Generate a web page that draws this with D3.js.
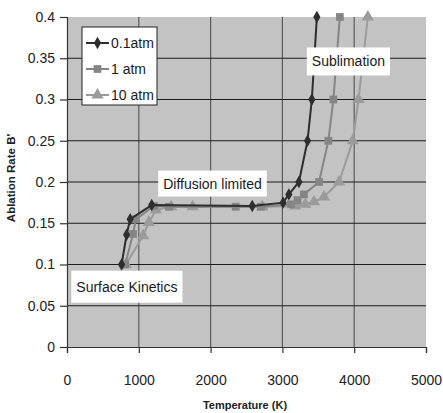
<!DOCTYPE html>
<html>
<head>
<meta charset="utf-8">
<script src="https://cdn.jsdelivr.net/npm/d3@7"></script>
<style>
body { margin: 0; background: #fff; }
text { font-family: "Liberation Sans", Arial, sans-serif; }
</style>
</head>
<body>
<div class="chart"></div>
<script>
// temperatures (K) and ablation rates
const temp01 = [760, 830, 880, 1180, 2580, 3010, 3090, 3230, 3350, 3410, 3480];
const rate01 = [0.10, 0.136, 0.155, 0.172, 0.171, 0.175, 0.185, 0.20, 0.25, 0.30, 0.40];

const temp1 = [810, 920, 960, 1210, 1420, 2350, 2700, 3120, 3210, 3300, 3510, 3640, 3710, 3800];
const rate1 = [0.10, 0.137, 0.155, 0.171, 0.17, 0.17, 0.17, 0.173, 0.178, 0.185, 0.20, 0.25, 0.30, 0.40];

const temp10 = [820, 1060, 1140, 1240, 1450, 1750, 2720, 3180, 3320, 3440, 3580, 3790, 3980, 4060, 4190];
const rate10 = [0.10, 0.135, 0.151, 0.166, 0.17, 0.17, 0.17, 0.171, 0.173, 0.176, 0.182, 0.20, 0.25, 0.30, 0.40];

const seriesNames = ["0.1atm", "1 atm", "10 atm"];
const xTicks = [0, 1000, 2000, 3000, 4000, 5000];
const yTicks = [0, 0.05, 0.1, 0.15, 0.2, 0.25, 0.3, 0.35, 0.4];

// region labels, placed in data units (left edge of box, middle of box)
const notes = [
	{text: "Sublimation", t: 3340, v: 0.346, pad: 6},
	{text: "Diffusion limited", t: 1270, v: 0.198, pad: 5},
	{text: "Surface Kinetics", t: 60, v: 0.073, pad: 8}
];

const width = 443;
const height = 413;
const pLeft = 67, pRight = 426, pTop = 17, pBottom = 347;

const svg = d3.select('.chart')
		.append('svg')
		.attr('width', width)
		.attr('height', height)

const x = d3.scaleLinear().domain([0, 5000]).range([pLeft, pRight]);
const y = d3.scaleLinear().domain([0, 0.4]).range([pBottom, pTop]);

// plot area
svg.append("rect")
	.attr("x", pLeft).attr("y", pTop)
	.attr("width", pRight - pLeft).attr("height", pBottom - pTop)
	.attr("fill", "#c3c3c3");

// vertical grid
svg.selectAll(".vgrid")
	.data(xTicks.filter(d => d > 0 && d < 5000))
	.enter()
	.append("line")
	.attr("x1", d => x(d)).attr("x2", d => x(d))
	.attr("y1", pTop).attr("y2", pBottom)
	.attr("stroke", "#5c5c5c").attr("stroke-width", 1.2);

// horizontal grid
svg.selectAll(".hgrid")
	.data(yTicks.filter(d => d > 0 && d < 0.4))
	.enter()
	.append("line")
	.attr("x1", pLeft).attr("x2", pRight)
	.attr("y1", d => y(d)).attr("y2", d => y(d))
	.attr("stroke", "#1c1c1c").attr("stroke-width", 1.2);

// axes
const yAxis = svg.append("g")
	.attr("transform", `translate(${pLeft},0)`)
	.call(d3.axisLeft(y).tickValues(yTicks).tickSize(7).tickPadding(5).tickFormat(d => d3.format("")(+d.toFixed(2))));
const xAxis = svg.append("g")
	.attr("transform", `translate(0,${pBottom})`)
	.call(d3.axisBottom(x).tickValues(xTicks).tickSize(6).tickPadding(22).tickFormat(d3.format("d")));

[yAxis, xAxis].forEach(g => {
	g.select(".domain").attr("stroke", "#333").attr("stroke-width", 1.2);
	g.selectAll(".tick line").attr("stroke", "#333").attr("stroke-width", 1.2);
	g.selectAll("text")
		.attr("fill", "#222")
		.style("font-size", "14px")
		.style("font-family", "'Liberation Sans', Arial, sans-serif");
});

// axis titles
svg.append("text")
	.attr("x", 245).attr("y", 409)
	.attr("text-anchor", "middle")
	.style("font-size", "11px").style("font-weight", "bold")
	.attr("fill", "#222")
	.text("Temperature (K)");

svg.append("text")
	.attr("transform", "translate(15,178) rotate(-90)")
	.attr("text-anchor", "middle")
	.style("font-size", "11.5px").style("font-weight", "bold")
	.attr("fill", "#222")
	.text("Ablation Rate B'");

// series
const series = [
	{name: seriesNames[2], temps: temp10, rates: rate10, color: "#9b9b9b", shape: d3.symbolTriangle, size: 65},
	{name: seriesNames[1], temps: temp1, rates: rate1, color: "#858585", shape: d3.symbolSquare, size: 60},
	{name: seriesNames[0], temps: temp01, rates: rate01, color: "#2e2e2e", shape: d3.symbolDiamond, size: 45}
];

const line = d3.line().x(d => x(d[0])).y(d => y(d[1]));

series.forEach(s => {
	const pts = s.temps.map((t, i) => [t, s.rates[i]]);
	svg.append("path")
		.datum(pts)
		.attr("d", line)
		.attr("fill", "none")
		.attr("stroke", s.color)
		.attr("stroke-width", 2);
	svg.selectAll(null)
		.data(pts)
		.enter()
		.append("path")
		.attr("transform", d => `translate(${x(d[0])},${y(d[1])})`)
		.attr("d", d3.symbol().type(s.shape).size(s.size))
		.attr("fill", s.color);
});

// annotations
notes.forEach(n => {
	const g = svg.append("g");
	const t = g.append("text")
		.attr("x", x(n.t) + 5).attr("y", y(n.v))
		.attr("dy", "0.35em")
		.style("font-size", "14px")
		.attr("fill", "#1a1a1a")
		.text(n.text);
	const bb = t.node().getBBox();
	g.insert("rect", "text")
		.attr("x", bb.x - 5).attr("y", bb.y - n.pad)
		.attr("width", bb.width + 10).attr("height", bb.height + 2 * n.pad)
		.attr("fill", "#fff");
});

// legend
const legend = svg.append("g").attr("transform", "translate(82,27)");
legend.append("rect")
	.attr("width", 75).attr("height", 78)
	.attr("fill", "#fff").attr("stroke", "#222").attr("stroke-width", 1);

const legendItems = [series[2], series[1], series[0]];
legend.selectAll(".item")
	.data(legendItems)
	.enter()
	.append("g")
	.attr("transform", (d, i) => `translate(0,${16 + i * 26})`)
	.each(function(d) {
		const g = d3.select(this);
		g.append("line")
			.attr("x1", 4).attr("x2", 27)
			.attr("stroke", d.color).attr("stroke-width", 2);
		g.append("path")
			.attr("transform", "translate(15.5,0)")
			.attr("d", d3.symbol().type(d.shape).size(d.size))
			.attr("fill", d.color);
		g.append("text")
			.attr("x", 29).attr("dy", "0.35em")
			.style("font-size", "14px")
			.attr("fill", "#1a1a1a")
			.text(d.name);
	});
</script>
</body>
</html>
